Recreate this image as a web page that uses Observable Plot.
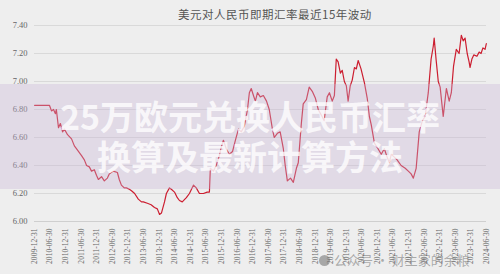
<!DOCTYPE html>
<html>
<head>
<meta charset="utf-8">
<script src="https://cdn.jsdelivr.net/npm/d3@7"></script>
<script src="https://cdn.jsdelivr.net/npm/@observablehq/plot@0.6"></script>
<style>
  @font-face {
    font-family: "OverlayCJK";
    src: local("Noto Sans CJK SC Bold"), local("NotoSansCJKsc-Bold"), local("Noto Sans CJK SC");
    font-weight: 700;
    ascent-override: 88%;
    descent-override: 12%;
    line-gap-override: 0%;
  }
  html, body { margin: 0; padding: 0; background: #eeeeee; }
  #wrap { position: relative; width: 500px; height: 274px; overflow: hidden; background: #eeeeee; }
  #title { position: absolute; top: 6px; left: 50px; width: 450px; text-align: center;
    font-family: "Noto Sans CJK SC", sans-serif; font-size: 11.5px; color: #555; letter-spacing: 0.5px; }
  #band { position: absolute; left: 0; top: 84px; width: 500px; height: 105px; background: rgba(200,180,215,0.35); }
  .ov { position: absolute; left: 0; width: 500px; text-align: center;
    font-family: "OverlayCJK", "Noto Sans CJK SC", sans-serif; font-weight: 700; font-size: 34px; line-height: 36px;
    color: rgba(255,255,255,0.78); white-space: nowrap; }
  #ov1 { top: 99px; }
  #ov2 { top: 139px; }
  #mark { position: absolute; left: 319px; top: 250px; font-family: "Noto Sans CJK SC", sans-serif;
    font-size: 13px; color: rgba(110,110,110,0.55); white-space: nowrap; }
  #mark .dot { display: inline-block; width: 11px; height: 11px; border-radius: 50%; background: rgba(110,110,110,0.55); vertical-align: -1px; margin-right: 4px; }
</style>
</head>
<body>
<div id="wrap">
  <div id="chart"></div>
  <div id="title">美元对人民币即期汇率最近15年波动</div>
  <div id="band"></div>
  <div class="ov" id="ov1">25万欧元兑换人民币汇率</div>
  <div class="ov" id="ov2">换算及最新计算方法</div>
  <div id="mark"><span class="dot"></span>公众号 · 财主家的余粮</div>
</div>
<script>
const dates = [
  "2010-01-01","2010-03-21","2010-06-24","2010-07-18","2010-08-11","2010-09-02","2010-09-13","2010-10-08","2010-10-30","2010-11-25","2010-12-16",
  "2011-01-22","2011-03-10","2011-04-12","2011-05-19","2011-07-05","2011-08-07","2011-09-02","2011-10-04","2011-10-30","2011-12-02","2011-12-27",
  "2012-01-18","2012-02-24","2012-03-28","2012-05-03","2012-05-25","2012-07-11","2012-08-28","2012-09-19","2012-10-14","2012-11-16","2012-12-12",
  "2013-01-15","2013-02-09","2013-03-18","2013-04-30","2013-06-06","2013-06-28","2013-08-14","2013-09-27","2013-11-06","2013-12-09",
  "2014-01-04","2014-01-26","2014-03-03","2014-03-25","2014-04-30","2014-05-22","2014-06-28","2014-07-31","2014-08-25","2014-09-27","2014-11-14","2014-12-20",
  "2015-02-06","2015-03-10","2015-04-16","2015-06-02","2015-07-16","2015-08-11","2015-08-22","2015-09-27","2015-10-30","2015-12-05","2015-12-27",
  "2016-01-22","2016-02-24","2016-04-01","2016-05-08","2016-06-10","2016-07-16","2016-08-18","2016-09-23","2016-10-30","2016-11-21","2016-12-13",
  "2017-01-08","2017-01-30","2017-02-24","2017-03-29","2017-05-04","2017-06-10","2017-07-12","2017-08-18","2017-09-09","2017-10-15","2017-11-17","2017-12-24",
  "2018-01-15","2018-02-09","2018-03-18","2018-04-20","2018-05-26","2018-06-17","2018-07-23","2018-08-14","2018-09-20","2018-10-23","2018-11-28",
  "2019-01-04","2019-02-06","2019-03-14","2019-04-16","2019-05-22","2019-06-17","2019-07-20","2019-08-14","2019-09-05","2019-09-27","2019-10-23","2019-11-14","2019-12-09",
  "2020-01-01","2020-01-22","2020-02-16","2020-03-10","2020-04-05","2020-04-27","2020-05-19","2020-06-21","2020-07-31","2020-09-02","2020-09-27","2020-10-19","2020-11-25","2020-12-27",
  "2021-02-13","2021-03-21","2021-04-23","2021-05-19","2021-06-10","2021-07-16","2021-08-18","2021-10-04","2021-11-21","2021-12-27",
  "2022-01-29","2022-02-24","2022-03-29","2022-05-04","2022-06-10","2022-07-12","2022-08-18","2022-09-20","2022-10-15","2022-10-26","2022-11-17","2022-12-13",
  "2023-01-04","2023-02-09","2023-03-18","2023-04-20","2023-05-15","2023-06-10","2023-07-12","2023-08-14","2023-09-09","2023-10-01","2023-10-23","2023-11-17","2023-12-09","2023-12-20",
  "2024-01-11","2024-02-02","2024-03-10","2024-04-05","2024-04-27","2024-05-19","2024-06-13","2024-06-28"
];
const rates = [
  6.83,6.83,6.83,6.79,6.80,6.77,6.80,6.67,6.70,6.64,6.66,
  6.62,6.59,6.54,6.51,6.47,6.44,6.40,6.39,6.36,6.37,6.33,
  6.30,6.32,6.29,6.31,6.34,6.36,6.35,6.30,6.26,6.24,6.24,
  6.23,6.22,6.20,6.16,6.14,6.14,6.13,6.12,6.10,6.09,
  6.05,6.06,6.14,6.20,6.24,6.23,6.21,6.17,6.15,6.14,6.17,6.20,
  6.26,6.24,6.20,6.20,6.21,6.21,6.38,6.36,6.40,6.47,6.53,
  6.58,6.52,6.48,6.50,6.58,6.66,6.64,6.68,6.80,6.92,6.95,
  6.90,6.86,6.92,6.89,6.90,6.86,6.80,6.66,6.60,6.63,6.64,6.52,
  6.40,6.29,6.31,6.28,6.38,6.42,6.70,6.84,6.87,6.96,6.93,
  6.88,6.80,6.76,6.72,6.89,6.92,6.86,6.90,7.16,7.14,7.06,7.08,7.00,
  6.97,6.86,6.97,7.01,7.10,7.09,7.15,7.09,6.99,6.88,6.75,6.69,6.56,6.53,
  6.48,6.52,6.46,6.42,6.48,6.46,6.44,6.40,6.38,6.36,
  6.34,6.31,6.38,6.64,6.72,6.75,6.92,7.16,7.25,7.31,7.16,7.00,
  6.96,6.75,6.95,6.86,6.92,7.11,7.23,7.20,7.33,7.29,7.31,7.20,7.14,7.10,
  7.16,7.19,7.18,7.21,7.20,7.24,7.23,7.27
];
const yTicks = [6.00, 6.20, 6.40, 6.60, 6.80, 7.00, 7.20, 7.40];
const xTickLabels = [
  "2009-12-31","2010-06-30","2010-12-31","2011-06-30","2011-12-31","2012-06-30","2012-12-31","2013-06-30",
  "2013-12-31","2014-06-30","2014-12-31","2015-06-30","2015-12-31","2016-06-30","2016-12-31","2017-06-30",
  "2017-12-31","2018-06-30","2018-12-31","2019-06-30","2019-12-31","2020-06-30","2020-12-31","2021-06-30",
  "2021-12-31","2022-06-30","2022-12-31","2023-06-30","2023-12-31","2024-06-30"
];

const data = dates.map((d, i) => ({date: new Date(d), rate: rates[i]}));
const xTicks = xTickLabels.map(d => new Date(d));

const chart = Plot.plot({
  width: 500,
  height: 274,
  marginTop: 25,
  marginBottom: 53,
  marginLeft: 34,
  marginRight: 14,
  style: {background: "transparent", fontFamily: "Liberation Serif", color: "#666", overflow: "visible"},
  x: {type: "utc", domain: [xTicks[0], xTicks[xTicks.length - 1]]},
  y: {domain: [6, 7.4]},
  marks: [
    Plot.gridY(yTicks, {stroke: "#d9d9d9", strokeOpacity: 1}),
    Plot.ruleY([6], {stroke: "#cfcfcf"}),
    Plot.axisY(yTicks, {tickSize: 0, tickPadding: 7, tickFormat: d => d.toFixed(2), fontSize: 8.5, label: null}),
    Plot.axisX(xTicks, {tickSize: 0, tickPadding: 7, tickRotate: -90, tickFormat: d3.utcFormat("%Y-%m-%d"), fontSize: 7.6, label: null}),
    Plot.lineY(data, {x: "date", y: "rate", stroke: "#cc1e30", strokeWidth: 1.2})
  ]
});
document.getElementById("chart").appendChild(chart);
</script>
</body>
</html>
